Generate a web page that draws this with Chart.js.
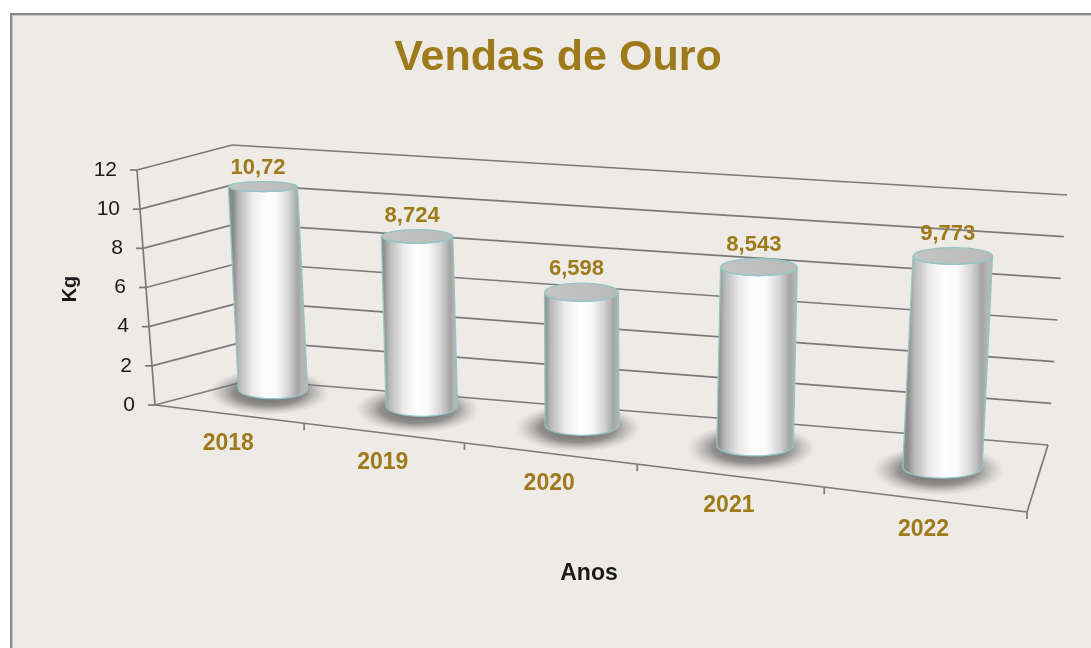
<!DOCTYPE html>
<html>
<head>
<meta charset="utf-8">
<script src="https://cdn.jsdelivr.net/npm/chart.js@4.4.1/dist/chart.umd.min.js"></script>
<style>
  html, body { margin: 0; padding: 0; background: #ffffff; }
  canvas { display: block; }
</style>
</head>
<body>
<canvas id="myChart" width="1091" height="648"></canvas>
<script>
// chart data
const chartTitle = "Vendas de Ouro";
const years = ["2018", "2019", "2020", "2021", "2022"];
const sales = [10.72, 8.724, 6.598, 8.543, 9.773];
const yTicks = [0, 2, 4, 6, 8, 10, 12];
const yTitle = "Kg";
const xTitle = "Anos";

const gold = "#9e7a1b";
const fontFamily = "'Liberation Sans', Arial, sans-serif";

// corners of the 3d box (front/back, left/right, bottom/top)
const box = {
  flb: [155, 405], flt: [137, 170],
  blb: [250, 380], blt: [232, 145],
  frb: [1027, 512], frt: [1047, 252],
  brb: [1048, 445], brt: [1067, 195]
};
// row where the cylinders stand
const cylRow = { start: [202.5, 380.8], end: [1042.1, 478.7] };
const K = -0.175; // perspective squeeze along the category axis

function lerp(a, b, t) {
  return [a[0] + (b[0] - a[0]) * t, a[1] + (b[1] - a[1]) * t];
}
function warp(u) {
  return u * (1 + K) / (1 + K * u);
}
// u: category 0..1, v: value 0..1, w: depth 0 (front) .. 1 (back)
function project(u, v, w) {
  const s = warp(u);
  const fb = lerp(box.flb, box.frb, s);
  const bb = lerp(box.blb, box.brb, s);
  const ft = lerp(box.flt, box.frt, s);
  const bt = lerp(box.blt, box.brt, s);
  return lerp(lerp(fb, bb, w), lerp(ft, bt, w), v);
}
function line(ctx, a, b) {
  ctx.beginPath();
  ctx.moveTo(a[0], a[1]);
  ctx.lineTo(b[0], b[1]);
  ctx.stroke();
}

function drawCylinder(ctx, bx, by, tx, ty, rx, ryB, ryT) {
  // soft shadow on the floor
  ctx.save();
  ctx.translate(bx - 4, by + 3);
  ctx.scale(1, 0.38);
  const R = rx + 26;
  const sg = ctx.createRadialGradient(0, 0, 0, 0, 0, R);
  sg.addColorStop(0, "rgba(70,70,70,0.9)");
  sg.addColorStop(0.6, "rgba(95,95,95,0.65)");
  sg.addColorStop(1, "rgba(150,150,150,0)");
  ctx.fillStyle = sg;
  ctx.beginPath();
  ctx.arc(0, 0, R, 0, Math.PI * 2);
  ctx.fill();
  ctx.restore();

  // body
  const cx = (bx + tx) / 2;
  const g = ctx.createLinearGradient(cx - rx, 0, cx + rx, 0);
  g.addColorStop(0, "#8c8c8c");
  g.addColorStop(0.08, "#b8b8b8");
  g.addColorStop(0.27, "#eaeaea");
  g.addColorStop(0.47, "#ffffff");
  g.addColorStop(0.62, "#fafafa");
  g.addColorStop(0.8, "#d4d4d4");
  g.addColorStop(0.93, "#a4a4a4");
  g.addColorStop(1, "#b6b6b6");
  ctx.beginPath();
  ctx.moveTo(tx - rx, ty);
  ctx.lineTo(bx - rx, by);
  ctx.ellipse(bx, by, rx, ryB, 0, Math.PI, 0, true);
  ctx.lineTo(tx + rx, ty);
  ctx.ellipse(tx, ty, rx, ryT, 0, 0, Math.PI, false);
  ctx.closePath();
  ctx.fillStyle = g;
  ctx.fill();
  ctx.strokeStyle = "#92c6c4";
  ctx.lineWidth = 1.3;
  ctx.stroke();

  // top cap
  const cg = ctx.createLinearGradient(tx - rx, 0, tx + rx, 0);
  cg.addColorStop(0, "#c4c4c4");
  cg.addColorStop(1, "#bababa");
  ctx.beginPath();
  ctx.ellipse(tx, ty, rx, ryT, 0, 0, Math.PI * 2);
  ctx.fillStyle = cg;
  ctx.fill();
  ctx.stroke();
}

const cylinderPlugin = {
  id: "cylinders3d",
  beforeDraw(chart) {
    const ctx = chart.ctx;
    ctx.save();
    ctx.fillStyle = "#ffffff";
    ctx.fillRect(0, 0, chart.width, chart.height);
    ctx.fillStyle = "#8a8a8a";
    ctx.fillRect(10, 13, chart.width, chart.height);
    ctx.fillStyle = "#c8c6c2";
    ctx.fillRect(12, 15, chart.width, chart.height);
    ctx.fillStyle = "#eeebe6";
    ctx.fillRect(13, 16, chart.width, chart.height);
    ctx.restore();
  },
  afterDatasetsDraw(chart) {
    const ctx = chart.ctx;
    const xs = chart.scales.x;
    const ys = chart.scales.y;
    const uOf = i => (xs.getPixelForValue(i) - xs.left) / xs.width;
    const vOf = val => (ys.bottom - ys.getPixelForValue(val)) / ys.height;
    const half = 0.5 / years.length;

    ctx.save();
    ctx.strokeStyle = "#7a7a7a";
    ctx.lineWidth = 1.7;

    // walls: gridlines, axis ticks and labels
    ctx.font = "21px " + fontFamily;
    ctx.fillStyle = "#1a1a1a";
    ctx.textAlign = "right";
    ctx.textBaseline = "middle";
    yTicks.forEach(t => {
      const v = vOf(t);
      const f = project(0, v, 0);
      const b = project(0, v, 1);
      line(ctx, f, b);
      line(ctx, b, project(1, v, 1));
      line(ctx, [f[0] - 7, f[1]], f);
      ctx.fillText(String(t), f[0] - 20, f[1]);
    });
    line(ctx, project(0, 0, 0), project(0, 1, 0));

    // floor edges
    line(ctx, project(0, 0, 0), project(1, 0, 0));
    line(ctx, project(1, 0, 0), project(1, 0, 1));
    years.forEach((y, i) => {
      const p = project(uOf(i) + half, 0, 0);
      line(ctx, p, [p[0], p[1] + 7]);
    });

    // cylinders and value labels
    sales.forEach((val, i) => {
      const s = warp(uOf(i));
      const base = lerp(cylRow.start, cylRow.end, s);
      const h = vOf(val) * 12 * (18.6 + 3.4 * s);
      const lean = -0.06 + 0.1236 * s;
      const rx = 34 + 6.5 * s;
      const tx = base[0] + lean * h;
      const ty = base[1] - h;
      const ryT = rx * (0.144 + 0.00095 * (ty - 186.7));
      const ryB = rx * 0.28;
      drawCylinder(ctx, base[0], base[1], tx, ty, rx, ryB, ryT);

      ctx.font = "bold 22px " + fontFamily;
      ctx.fillStyle = gold;
      ctx.textAlign = "center";
      ctx.textBaseline = "alphabetic";
      ctx.fillText(String(val).replace(".", ","), tx - 5, ty - ryT - 8);
    });

    // category labels
    ctx.font = "bold 23px " + fontFamily;
    ctx.fillStyle = gold;
    ctx.textAlign = "center";
    ctx.textBaseline = "middle";
    years.forEach((y, i) => {
      const p = project(uOf(i), 0, 0);
      ctx.fillText(y, p[0], p[1] + 30);
    });

    // axis titles
    ctx.fillStyle = "#1a1a1a";
    ctx.font = "bold 23px " + fontFamily;
    ctx.fillText(xTitle, 589, 574);
    ctx.save();
    ctx.translate(70, 289);
    ctx.rotate(-Math.PI / 2);
    ctx.font = "bold 20px " + fontFamily;
    ctx.fillText(yTitle, 0, 0);
    ctx.restore();

    ctx.restore();
  }
};

const ctx = document.getElementById("myChart");
const myChart = new Chart(ctx, {
  type: "bar",
  data: {
    labels: years,
    datasets: [
      {
        label: chartTitle,
        data: sales,
        backgroundColor: "rgba(0,0,0,0)",
        borderWidth: 0
      }
    ]
  },
  options: {
    responsive: false,
    animation: false,
    layout: { padding: { left: 25, right: 0, top: 0, bottom: 0 } },
    plugins: {
      legend: { display: false },
      tooltip: { enabled: false },
      title: {
        display: true,
        text: chartTitle,
        color: gold,
        font: { family: fontFamily, size: 43, weight: "bold" },
        padding: { top: 32, bottom: 10 }
      }
    },
    scales: {
      x: { display: false },
      y: { display: false, min: 0, max: 12 }
    }
  },
  plugins: [cylinderPlugin]
});
</script>
</body>
</html>
